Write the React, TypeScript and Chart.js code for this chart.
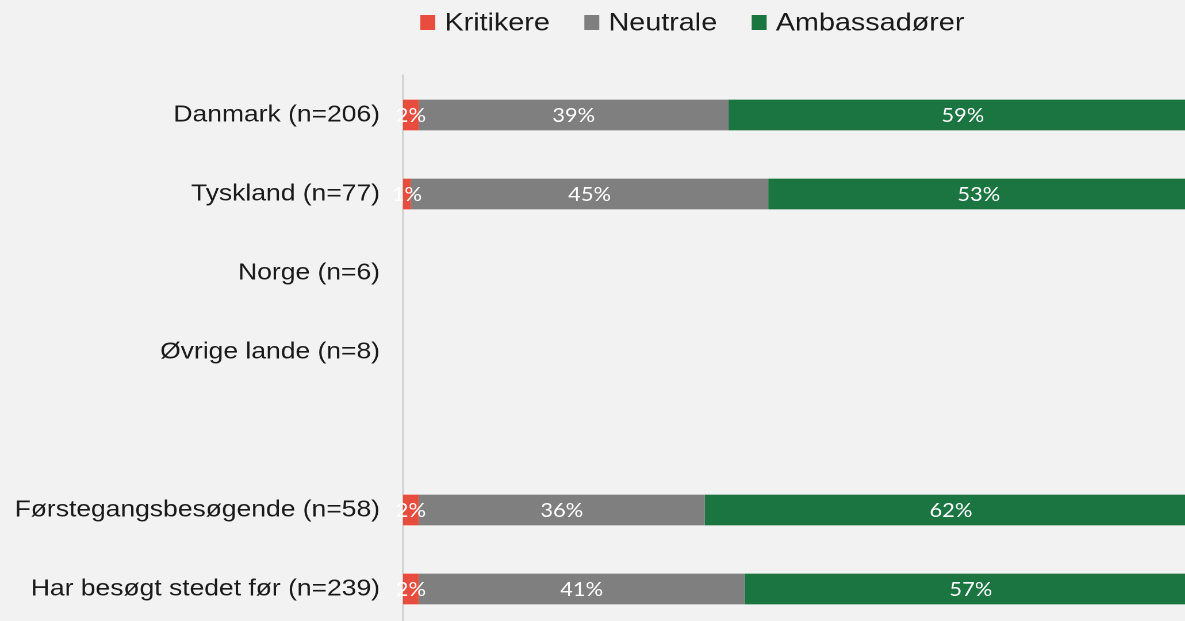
import React, { useEffect, useRef } from "react";
import { Chart, registerables } from "chart.js";

Chart.register(...registerables);

const categories = [
  "Danmark (n=206)",
  "Tyskland (n=77)",
  "Norge (n=6)",
  "Øvrige lande (n=8)",
  "",
  "Førstegangsbesøgende (n=58)",
  "Har besøgt stedet før (n=239)",
];
const seriesNames = ["Kritikere", "Neutrale", "Ambassadører"];
const seriesColors = ["#e84c3d", "#7f7f7f", "#1a7540"];
const kritikere = [2, 1, null, null, null, 2, 2];
const neutrale = [39, 45, null, null, null, 36, 41];
const ambassadoerer = [59, 53, null, null, null, 62, 57];

const SX = 1.15;
const CW = 1204;
const CH = 640;

const valueLabels = {
  id: "valueLabels",
  afterDatasetsDraw(chart: any) {
    const ctx = chart.ctx;
    ctx.save();
    ctx.font = '19px Lato, "Open Sans", sans-serif';
    ctx.fillStyle = "#ffffff";
    ctx.textAlign = "center";
    ctx.textBaseline = "middle";
    chart.data.datasets.forEach((ds: any, i: number) => {
      const meta = chart.getDatasetMeta(i);
      meta.data.forEach((bar: any, j: number) => {
        const v = ds.data[j];
        if (v == null) return;
        const p = bar.getProps(["x", "base", "y"], true);
        ctx.fillText(v + "%", (p.x + p.base) / 2, p.y + 1);
      });
    });
    ctx.restore();
  },
};

const customLegend = {
  id: "customLegend",
  afterDraw(chart: any) {
    const ctx = chart.ctx;
    ctx.save();
    ctx.font = '25px "Liberation Sans", Arial, sans-serif';
    const boxW = 13;
    const boxH = 15;
    const gapBox = 8;
    const gapItem = 30;
    const widths = seriesNames.map((n) => ctx.measureText(n).width);
    const total =
      widths.reduce((a, b) => a + b, 0) +
      seriesNames.length * (boxW + gapBox) +
      (seriesNames.length - 1) * gapItem;
    let x = chart.width / 2 - total / 2;
    const yMid = 22.5;
    ctx.textBaseline = "middle";
    ctx.textAlign = "left";
    seriesNames.forEach((n, i) => {
      ctx.fillStyle = seriesColors[i];
      ctx.fillRect(x, yMid - boxH / 2, boxW, boxH);
      x += boxW + gapBox;
      ctx.fillStyle = "#1a1a1a";
      ctx.fillText(n, x, yMid + 1);
      x += widths[i] + gapItem;
    });
    ctx.restore();
  },
};

export default function App() {
  const canvasRef = useRef<HTMLCanvasElement | null>(null);

  useEffect(() => {
    document.body.style.margin = "0";
    document.body.style.background = "#f2f2f2";
    const canvas = canvasRef.current;
    if (!canvas) return;
    const values = [kritikere, neutrale, ambassadoerer];
    const chart = new Chart(canvas, {
      type: "bar",
      data: {
        labels: categories,
        datasets: seriesNames.map((name, i) => ({
          label: name,
          data: values[i],
          backgroundColor: seriesColors[i],
          borderColor: "rgba(255,255,255,0.4)",
          borderWidth: { top: 1, bottom: 1, left: 0, right: 0 },
          borderSkipped: false,
          barThickness: 32,
        })),
      },
      options: {
        indexAxis: "y",
        animation: false,
        responsive: false,
        devicePixelRatio: 2,
        layout: { padding: { top: 75.5, bottom: 0, left: 0, right: 163 } },
        plugins: {
          legend: { display: false },
          tooltip: { enabled: false },
        },
        scales: {
          x: {
            stacked: true,
            display: false,
            min: 0,
            max: 100,
          },
          y: {
            stacked: true,
            grid: { display: false, drawTicks: false },
            border: { display: true, color: "#d4d4d4", width: 2 },
            ticks: {
              padding: 20,
              color: "#1a1a1a",
              font: { family: '"Liberation Sans", Arial, sans-serif', size: 23 },
            },
            afterFit(scale: any) {
              scale.width = 350.4;
            },
          },
        },
      },
      plugins: [
        valueLabels,
        customLegend,
        {
          id: "fixArea",
          afterLayout(chart: any) {
            const y = chart.scales.y;
            const top = 75.5;
            const bottom = 628.5;
            chart.chartArea.top = top;
            chart.chartArea.bottom = bottom;
            chart.chartArea.height = bottom - top;
            y.top = top;
            y.bottom = bottom;
            y.height = bottom - top;
            y.configure();
          },
        },
      ],
    } as any);
    return () => chart.destroy();
  }, []);

  return (
    <div style={{ width: 1185, height: 621, overflow: "hidden", background: "#f2f2f2" }}>
      <div
        style={{
          width: CW,
          height: CH,
          transform: `scaleX(${SX})`,
          transformOrigin: "0 0",
        }}
      >
        <canvas
          ref={canvasRef}
          width={CW}
          height={CH}
          style={{ width: CW, height: CH, display: "block" }}
        />
      </div>
    </div>
  );
}
